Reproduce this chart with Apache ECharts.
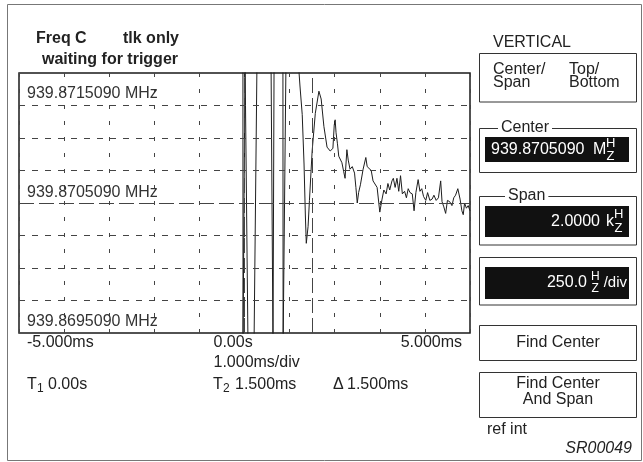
<!DOCTYPE html>
<html>
<head>
<meta charset="utf-8">
<script src="https://cdn.jsdelivr.net/npm/echarts@6/dist/echarts.min.js"></script>
<style>
  html, body { margin: 0; padding: 0; background: #fff; }
  #chart { width: 643px; height: 462px; }
</style>
</head>
<body>
<div id="chart"></div>
<script>
// Frequency deviation from the 939.8705090 MHz centre, sampled around the trigger.
// Time in ms relative to the trigger, offset in Hz (values beyond ±1000 Hz run off-screen).
const timeMs = [
  -0.035, -0.033, 0.010, 0.012, 0.055, 0.078, 0.211, 0.277, 0.588, 0.632,
  0.650, 0.656, 0.852, 0.856, 0.898, 0.920, 1.19,
  1.23, 1.28, 1.32, 1.35, 1.37, 1.39, 1.41, 1.44, 1.50, 1.57,
  1.65, 1.70, 1.76, 1.83, 1.90, 1.96, 1.99, 2.01, 2.03, 2.06,
  2.09, 2.16, 2.20, 2.23, 2.27, 2.30, 2.34, 2.39, 2.44, 2.47,
  2.50, 2.53, 2.57, 2.63, 2.69, 2.72, 2.76, 2.81, 2.85, 2.94,
  3.00, 3.05, 3.09, 3.14, 3.18, 3.22, 3.27, 3.30, 3.34, 3.38,
  3.42, 3.46, 3.50, 3.55, 3.59, 3.63, 3.67, 3.72, 3.76, 3.80,
  3.85, 3.89, 3.93, 3.97, 4.02, 4.06, 4.11, 4.16, 4.20, 4.25,
  4.30, 4.35, 4.38, 4.42, 4.46, 4.50, 4.55, 4.60, 4.64, 4.68,
  4.73, 4.78, 4.82, 4.85, 4.88, 4.92, 4.96, 5.00
];
const offsetHz = [
  1100, -1100, -1100, 1100, 1100, -1100, -1100, 1100, 1100, -1100,
  -1100, 1100, 1100, -1100, -1100, 1100, 1100,
  900, 680, 300, -100, -310, -300, -180, 20, 400, 690,
  860, 800, 590, 430, 400, 420, 600, 640, 540, 460,
  360, 310, 240, 190, 410, 330, 260, 280, 230, 120,
  0, 80, 140, 260, 350, 280, 290, 250, 170, 120,
  -70, 30, 100, 70, 150, 100, 170, 190, 120, 190,
  90, 210, 70, 90, 40, 110, 80, 70, -60, 80,
  180, 90, 110, 50, 20, 80, 20, 30, 60, 20,
  40, 170, 10, -30, -80, 20, 10, -20, 40, 60,
  110, 30, -60, -90, 0, -40, -20, -60
];

// Cursors T1 and T2 (ms)
const cursorMs = [0, 1.5];

// Scale annotations
const freqLabels = ['939.8715090 MHz', '939.8705090 MHz', '939.8695090 MHz'];
const freqLabelAt = [1000, 0, -1000];
const timeLabels = ['-5.000ms', '0.00s', '5.000ms'];
const timeLabelAt = [-5, 0, 5];

// Vertical scale: ±1 kHz around centre, 250 Hz per division
const Y_MIN = -1000, Y_MAX = 1000, Y_STEP = 250;

const FONT = "'Liberation Sans', Arial, Helvetica, sans-serif";
const INK = '#222';

const chart = echarts.init(document.getElementById('chart'), null, { renderer: 'canvas' });

const trace = timeMs.map((t, i) => [t, offsetHz[i]]);

// horizontal graticule: short dashes, the centre line in long dashes
const shortDash = [6, 7], longDash = [15, 5];
const hLines = [];
for (let v = Y_MIN + Y_STEP; v < Y_MAX; v += Y_STEP) {
  hLines.push({ yAxis: v, lineStyle: { type: v === 0 ? longDash : shortDash } });
}
const cursorLines = cursorMs.map(c => ({ xAxis: c, lineStyle: { type: longDash } }));

chart.setOption({
  animation: false,
  backgroundColor: '#fff',
  grid: {
    left: 19, top: 73, width: 451, height: 260,
    show: true, borderColor: '#1a1a1a', borderWidth: 1.5,
    backgroundColor: 'transparent'
  },
  xAxis: {
    type: 'value', min: -5, max: 5, interval: 1,
    axisLine: { show: false }, axisTick: { show: false }, axisLabel: { show: false },
    splitLine: { show: true, lineStyle: { color: '#444', width: 1, type: [4, 12] } }
  },
  yAxis: {
    type: 'value', min: Y_MIN, max: Y_MAX, interval: Y_STEP,
    axisLine: { show: false }, axisTick: { show: false }, axisLabel: { show: false },
    splitLine: { show: false }
  },
  series: [{
    type: 'line',
    data: trace,
    showSymbol: false,
    clip: true,
    lineStyle: { color: '#1e1e1e', width: 1 },
    markLine: {
      silent: true,
      symbol: 'none',
      label: { show: false },
      lineStyle: { color: '#444', width: 1 },
      data: hLines.concat(cursorLines)
    }
  }]
});

function label(x, y, text, extra) {
  return {
    type: 'text', x: x, y: y, silent: true,
    style: Object.assign({
      text: text, fill: INK, fontFamily: FONT, fontSize: 16,
      align: 'left', verticalAlign: 'middle'
    }, extra || {})
  };
}
function box(x, y, w, h, extra) {
  return {
    type: 'rect', silent: true,
    shape: { x: x, y: y, width: w, height: h },
    style: Object.assign({ fill: 'none', stroke: '#333', lineWidth: 1 }, extra || {})
  };
}

const px = (t, f) => chart.convertToPixel({ gridIndex: 0 }, [t, f]);
const plotLeft = px(-5, 0)[0];
const plotBottom = px(0, Y_MIN)[1];

const g = [];
// outer frame
g.push(box(7.5, 4.5, 634, 456, { stroke: '#777' }));

// status lines
g.push(label(36, 39, 'Freq C', { fontWeight: 'bold' }));
g.push(label(123, 39, 'tlk only', { fontWeight: 'bold' }));
g.push(label(42, 60, 'waiting for trigger', { fontWeight: 'bold' }));

// frequency scale labels inside the plot
const freqDy = [21, -10, -11];
freqLabels.forEach((s, i) => {
  const y = px(0, freqLabelAt[i])[1] + freqDy[i];
  g.push(label(plotLeft + 8, y, s, { fill: '#333' }));
});

// time scale labels under the plot
const tp = timeLabelAt.map(t => px(t, 0)[0]);
g.push(label(tp[0] + 8, plotBottom + 10, timeLabels[0]));
g.push(label(tp[1] - 31, plotBottom + 10, timeLabels[1]));
g.push(label(tp[2] - 8, plotBottom + 10, timeLabels[2], { align: 'right' }));
g.push(label(tp[1] - 31, plotBottom + 30, '1.000ms/div'));

// cursor readouts
const ry = plotBottom + 52;
g.push(label(27, ry, 'T'));
g.push(label(37, ry + 4, '1', { fontSize: 12 }));
g.push(label(48, ry, '0.00s'));
g.push(label(213, ry, 'T'));
g.push(label(223, ry + 4, '2', { fontSize: 12 }));
g.push(label(235, ry, '1.500ms'));
g.push(label(333, ry, '\u0394'));
g.push(label(347, ry, '1.500ms'));

// right-hand softkey panel
g.push(label(493, 43, 'VERTICAL'));
g.push(box(479.5, 53.5, 157, 48.5));
g.push(label(493, 70, 'Center/'));
g.push(label(493, 83, 'Span'));
g.push(label(569, 70, 'Top/'));
g.push(label(569, 83, 'Bottom'));

// Center group
g.push(box(479.5, 128.5, 157, 44));
g.push(label(498, 128, 'Center', { backgroundColor: '#fff', padding: [0, 3, 0, 3] }));
g.push(box(485, 137, 144, 25, { fill: '#111', stroke: 'none' }));
g.push(label(491, 150, '939.8705090', { fill: '#fff' }));
g.push(label(593, 150, 'M', { fill: '#fff' }));
g.push(label(606, 143, 'H', { fill: '#fff', fontSize: 13 }));
g.push(label(606.5, 156, 'Z', { fill: '#fff', fontSize: 13 }));

// Span group
g.push(box(479.5, 196.5, 157, 48.5));
g.push(label(505, 196, 'Span', { backgroundColor: '#fff', padding: [0, 3, 0, 3] }));
g.push(box(485, 206, 144, 31, { fill: '#111', stroke: 'none' }));
g.push(label(600, 222, '2.0000', { fill: '#fff', align: 'right' }));
g.push(label(606, 222, 'k', { fill: '#fff' }));
g.push(label(614, 214, 'H', { fill: '#fff', fontSize: 13 }));
g.push(label(614.5, 228, 'Z', { fill: '#fff', fontSize: 13 }));

// per-division readout
g.push(box(479.5, 257.5, 157, 47.5));
g.push(box(485, 267, 144, 32, { fill: '#111', stroke: 'none' }));
g.push(label(587, 283, '250.0', { fill: '#fff', align: 'right' }));
g.push(label(591, 277, 'H', { fill: '#fff', fontSize: 12 }));
g.push(label(591.5, 289, 'Z', { fill: '#fff', fontSize: 12 }));
g.push(label(627, 283, '/div', { fill: '#fff', align: 'right', fontSize: 15 }));

// action keys
g.push(box(479.5, 325.5, 157, 35));
g.push(label(558, 343, 'Find Center', { align: 'center' }));
g.push(box(479.5, 372.5, 157, 45));
g.push(label(558, 384, 'Find Center', { align: 'center' }));
g.push(label(558, 400, 'And Span', { align: 'center' }));

g.push(label(487, 430, 'ref int'));
g.push(label(632, 449, 'SR00049', { align: 'right', fontStyle: 'italic' }));

chart.setOption({ graphic: { elements: g } });
</script>
</body>
</html>
